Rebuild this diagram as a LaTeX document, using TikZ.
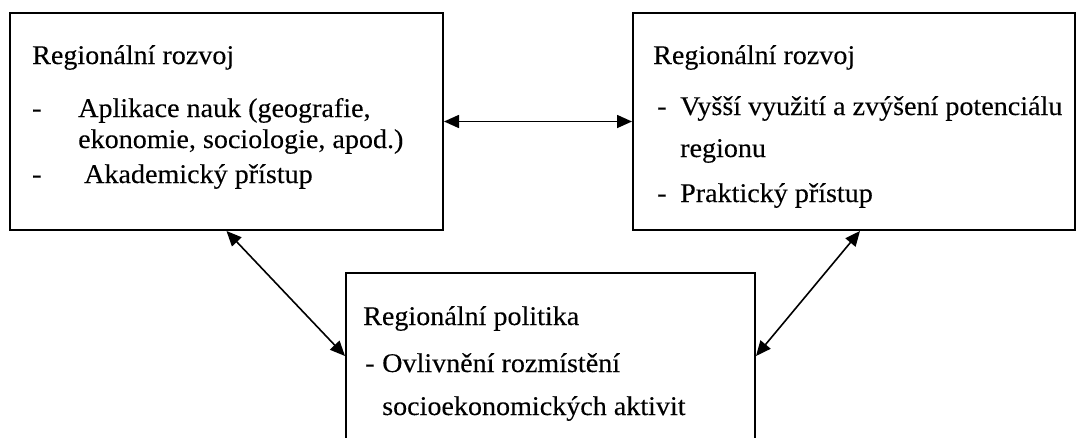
\documentclass[tikz,border=0pt]{standalone}
\usepackage{fontspec}
\setmainfont[FakeStretch=1.04,FakeBold=0.2]{Liberation Serif}
\usetikzlibrary{arrows.meta}
\begin{document}
\begin{tikzpicture}[x=1pt,y=-1pt,
  box/.style={draw=black,line width=2pt,rectangle,inner sep=0pt},
  txt/.style={anchor=base west,inner sep=0pt,font=\fontsize{27}{31}\selectfont},
  link/.style={line width=1.6pt,{Triangle[length=15pt,width=13pt]}-{Triangle[length=15pt,width=13pt]}}]
\useasboundingbox (0,0) rectangle (1077,437);
\fill[white] (0,0) rectangle (1077,437);
% boxes
\node[box,minimum width=433pt,minimum height=217pt] (L) at (226.5,121.5) {};
\node[box,minimum width=442pt,minimum height=217pt] (R) at (854,121.5) {};
\node[box,minimum width=409pt,minimum height=166pt] (B) at (550.5,356) {};
% left box text
\node[txt] (l1) at (32,64) {Regionální rozvoj};
\node[txt] (l2d) at (32,117) {-};
\node[txt] (l2) at (78,117) {Aplikace nauk (geografie,};
\node[txt] (l3) at (78,148) {ekonomie, sociologie, apod.)};
\node[txt] (l4d) at (32,183) {-};
\node[txt] (l4) at (84,183) {Akademický přístup};
% right box text
\node[txt] (r1) at (653,64) {Regionální rozvoj};
\node[txt] (r2d) at (657,115) {-};
\node[txt] (r2) at (680,115) {Vyšší využití a zvýšení potenciálu};
\node[txt] (r3) at (680,157) {regionu};
\node[txt] (r4d) at (657,202) {-};
\node[txt] (r4) at (680,202) {Praktický přístup};
% bottom box text
\node[txt] (b1) at (363,325) {Regionální politika};
\node[txt] (b2d) at (365,372) {-};
\node[txt] (b2) at (382,372) {Ovlivnění rozmístění};
\node[txt] (b3) at (382,415) {socioekonomických aktivit};
% connectors
\draw[link] (L.east) -- (R.west);
\coordinate (Ls) at ([xshift=0pt]L.south);
\coordinate (Rs) at ([xshift=6pt]R.south);
\draw[link] (Ls) -- (B.west);
\draw[link] (Rs) -- (B.east);
\end{tikzpicture}
\end{document}
